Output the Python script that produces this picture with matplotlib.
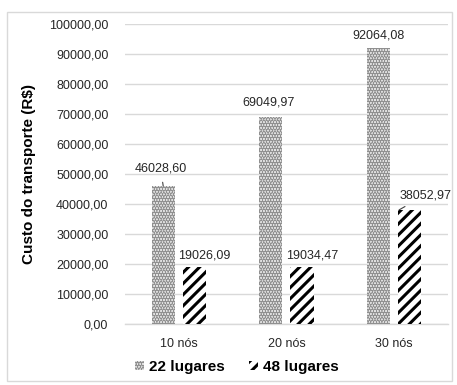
import matplotlib
matplotlib.use("Agg")
import matplotlib.pyplot as plt
import numpy as np
from matplotlib.patches import Rectangle

plt.rcParams['font.family'] = ['Liberation Sans', 'DejaVu Sans']
plt.rcParams['hatch.linewidth'] = 2.2

categories = ['10 nós', '20 nós', '30 nós']
lugares_22 = [46028.60, 69049.97, 92064.08]
lugares_48 = [19026.09, 19034.47, 38052.97]
series_names = ['22 lugares', '48 lugares']
yticks = np.arange(0, 100001, 10000)


def br(v):
    return f'{v:.2f}'.replace('.', ',')


fig = plt.figure(figsize=(4.57, 3.85), dpi=100)
ax = fig.add_axes([0.2735, 0.1584, 0.7065, 0.7793])

x = np.arange(len(categories))
width = 0.215
off = 0.145

b1 = ax.bar(x - off, lugares_22, width, facecolor='#ececec', edgecolor='#909090',
            hatch='......', linewidth=0, label=series_names[0], zorder=3)
b2 = ax.bar(x + off, lugares_48, width, facecolor='white', edgecolor='black',
            hatch='///', linewidth=0, label=series_names[1], zorder=3)

ax.set_xlim(-0.5, 2.5)
ax.set_ylim(0, 100000)
ax.set_yticks(yticks)
ax.set_yticklabels([br(v) for v in yticks], fontsize=9, color='#262626')
ax.set_xticks(x)
ax.set_xticklabels(categories, fontsize=9, color='#262626')
ax.tick_params(length=0)
ax.tick_params(axis='y', pad=12)
ax.tick_params(axis='x', pad=10)
ax.grid(axis='y', color='#d9d9d9', linewidth=1, zorder=0)
for s in ['top', 'right', 'left']:
    ax.spines[s].set_visible(False)
ax.spines['bottom'].set_color('#d9d9d9')
ax.spines['bottom'].set_linewidth(1)

ax.set_ylabel('Custo do transporte (R$)', fontsize=11, fontweight='bold', labelpad=9)

lab_kw = dict(fontsize=9, color='#262626', ha='center', va='center')
# 22 lugares labels
ax.annotate(br(lugares_22[0]), xy=(x[0] - off, lugares_22[0]), xytext=(x[0] - 0.17, 52000),
            arrowprops=dict(arrowstyle='-', color='#404040', lw=0.8, shrinkA=4, shrinkB=0), **lab_kw)
ax.text(x[1] - 0.17, 73700, br(lugares_22[1]), **lab_kw)
ax.text(x[2] - off, 96300, br(lugares_22[2]), **lab_kw)
# 48 lugares labels
ax.text(x[0] + 0.24, 23000, br(lugares_48[0]), **lab_kw)
ax.text(x[1] + 0.24, 23000, br(lugares_48[1]), **lab_kw)
ax.annotate(br(lugares_48[2]), xy=(x[2] + off - width / 2 + 0.01, lugares_48[2]),
            xytext=(x[2] + 0.29, 43000),
            arrowprops=dict(arrowstyle='-', color='#404040', lw=0.8, shrinkA=4, shrinkB=0),
            annotation_clip=False, **lab_kw)

leg = fig.legend(handles=[b1, b2], loc='center', bbox_to_anchor=(237 / 457, 1 - 367 / 385),
                 ncol=2, frameon=False, handlelength=0.6, handleheight=0.6,
                 handletextpad=0.3, columnspacing=1.6,
                 prop={'size': 11, 'weight': 'bold'})

fig.patches.append(Rectangle((7 / 457, 4 / 385), 445 / 457, 369 / 385, transform=fig.transFigure,
                             fill=False, edgecolor='#d9d9d9', linewidth=1))

fig.savefig('out.png', dpi=100)
